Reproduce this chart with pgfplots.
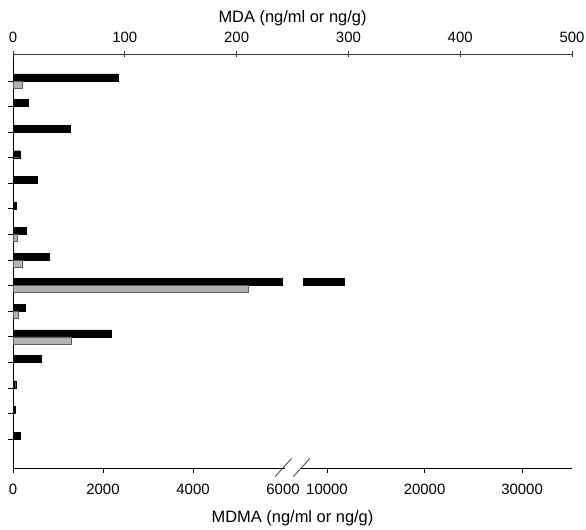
\documentclass[border=0pt]{standalone}
\usepackage{pgfplots}
\pgfplotsset{compat=1.18}
\usepackage{pgfplotstable}
\usepackage{fontspec}
\setmainfont{Liberation Sans}

% MDMA (bottom axis, broken scale)
\pgfplotstableread{
row mdma
1 2330
2 340
3 1280
4 160
5 530
6 70
7 300
8 810
9 11740
10 270
11 2190
12 630
13 60
14 45
15 150
}\mdmadata

% MDA (top axis)
\pgfplotstableread{
row mda
1 8
7 4
8 8
9 210
10 5
11 52
}\mdadata

\definecolor{bargray}{RGB}{178,178,178}
\definecolor{bargrayedge}{RGB}{95,95,95}

\begin{document}
\begin{tikzpicture}[x=1bp,y=1bp]
\path[use as bounding box] (0,0) rectangle (586,530);

\begin{axis}[
  at={(13bp,62bp)}, anchor=south west,
  scale only axis, width=559bp, height=414bp,
  xmin=0, xmax=12422, ymin=-0.056, ymax=16.13, y dir=reverse,
  axis x line*=bottom, axis y line*=left,
  axis line style={-, line width=0.8bp, black},
  scaled x ticks=false,
  xtick={0,2000,4000,6978,9145,11312},
  xticklabels={0,2000,4000,10000,20000,30000},
  extra x ticks={6000}, extra x tick labels={6000},
  extra x tick style={major tick length=0pt, tick label style={yshift=-5bp}},
  ytick={1,...,15}, yticklabels={},
  tick align=outside, major tick length=5bp,
  tick style={black, line width=0.8bp},
  tick label style={font=\fontsize{15}{17}\selectfont},
  xticklabel style={yshift=-8bp},
  xlabel={MDMA (ng/ml or ng/g)},
  label style={font=\fontsize{16.5}{19}\selectfont},
  xlabel style={yshift=-4bp},
  clip=false,
]
\addplot[xbar, bar shift=0pt, bar width=7bp, fill=black, draw=black]
  table[x expr={\thisrow{mdma}<=6500 ? \thisrow{mdma} : 6978+(\thisrow{mdma}-10000)*0.2167},
        y expr={\thisrow{row}-0.137}] {\mdmadata};
\fill[white] (axis cs:6000,8.6) rectangle (axis cs:6444,8.995);
\end{axis}

\begin{axis}[
  at={(13bp,62bp)}, anchor=south west,
  scale only axis, width=559bp, height=414bp,
  xmin=0, xmax=500, ymin=-0.056, ymax=16.13, y dir=reverse,
  axis x line*=top, axis y line=none,
  axis line style={-, line width=0.7bp, black!80},
  xtick={0,100,200,300,400,500},
  xticklabels={0,100,200,300,400,500},
  tick align=center, major tick length=6bp,
  tick style={black!80, line width=0.7bp},
  tick label style={font=\fontsize{15}{17}\selectfont},
  xticklabel style={yshift=5bp},
  xlabel={MDA (ng/ml or ng/g)},
  label style={font=\fontsize{16.5}{19}\selectfont},
  xlabel style={yshift=-1bp},
  clip=false,
]
\addplot[xbar, bar shift=0pt, bar width=7bp, fill=bargray, draw=bargrayedge]
  table[x=mda, y expr={\thisrow{row}+0.137}] {\mdadata};
\end{axis}

% axis break marks
\fill[white] (284.5,59.5) rectangle (300.5,64.5);
\draw[line width=0.8bp, black!75] (275,53.3) -- (291.7,71.7);
\draw[line width=0.8bp, black!75] (293.3,53.3) -- (310,71.7);
\end{tikzpicture}
\end{document}
